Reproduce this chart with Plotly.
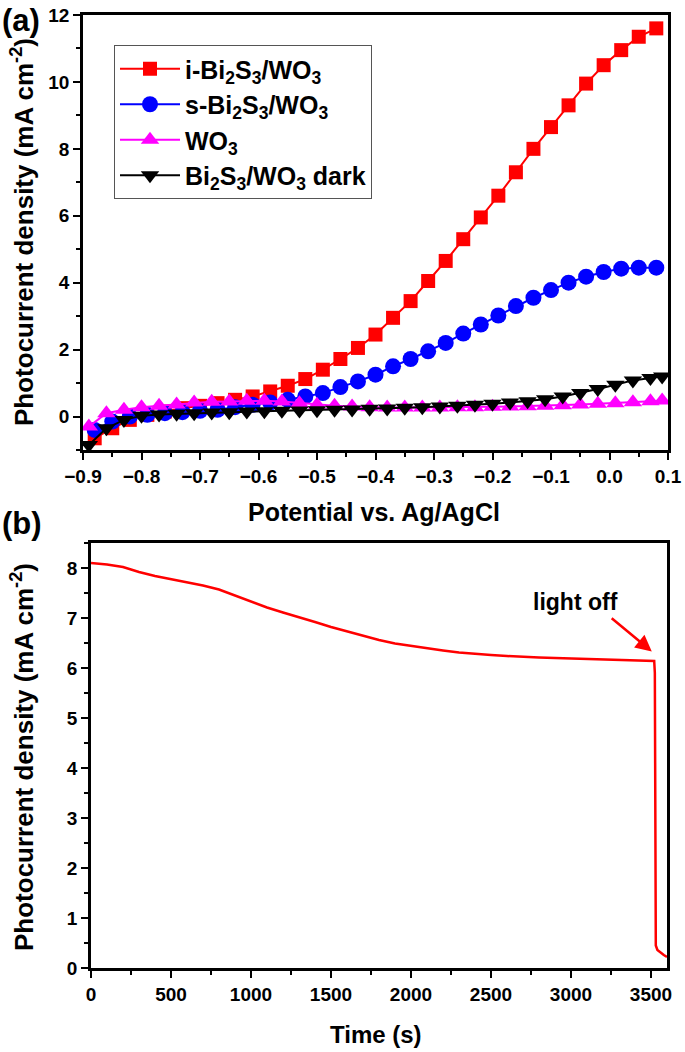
import plotly.graph_objects as go

# ---------- Panel (a) data ----------
pot_i = [-0.88, -0.85, -0.82, -0.79, -0.76, -0.73, -0.70, -0.67, -0.64, -0.61, -0.58,
         -0.55, -0.52, -0.49, -0.46, -0.43, -0.40, -0.37, -0.34, -0.31, -0.28, -0.25,
         -0.22, -0.19, -0.16, -0.13, -0.10, -0.07, -0.04, -0.01, 0.02, 0.05, 0.08]
cur_i = [-0.65, -0.35, -0.10, 0.05, 0.15, 0.25, 0.32, 0.40, 0.50, 0.60, 0.75,
         0.92, 1.12, 1.40, 1.72, 2.05, 2.45, 2.95, 3.45, 4.05, 4.65, 5.30,
         5.95, 6.60, 7.30, 8.00, 8.65, 9.30, 9.95, 10.50, 10.95, 11.35, 11.60]

pot_s = pot_i
cur_s = [-0.40, -0.15, 0.00, 0.05, 0.10, 0.13, 0.17, 0.20, 0.28, 0.35, 0.42,
         0.50, 0.60, 0.70, 0.88, 1.05, 1.25, 1.50, 1.72, 1.95, 2.20, 2.48,
         2.75, 3.02, 3.30, 3.55, 3.78, 4.00, 4.18, 4.32, 4.42, 4.45, 4.45]

pot_w = [-0.89, -0.86, -0.83, -0.80, -0.77, -0.74, -0.71, -0.68, -0.65, -0.62, -0.59,
         -0.56, -0.53, -0.50, -0.47, -0.44, -0.41, -0.38, -0.35, -0.32, -0.29, -0.26,
         -0.23, -0.20, -0.17, -0.14, -0.11, -0.08, -0.05, -0.02, 0.01, 0.04, 0.07, 0.09]
cur_w = [-0.30, 0.10, 0.20, 0.28, 0.32, 0.36, 0.42, 0.44, 0.45, 0.47, 0.47,
         0.45, 0.40, 0.35, 0.32, 0.30, 0.28, 0.27, 0.27, 0.27, 0.27, 0.28,
         0.28, 0.29, 0.30, 0.31, 0.32, 0.34, 0.36, 0.38, 0.40, 0.43, 0.46, 0.48]

pot_d = pot_w
cur_d = [-0.85, -0.35, -0.10, 0.02, 0.06, 0.08, 0.10, 0.12, 0.13, 0.15, 0.16,
         0.17, 0.18, 0.19, 0.20, 0.21, 0.23, 0.24, 0.26, 0.28, 0.30, 0.32,
         0.35, 0.38, 0.42, 0.46, 0.52, 0.60, 0.70, 0.82, 0.95, 1.08, 1.15, 1.20]

# ---------- Panel (b) data ----------
time_s = [0, 100, 200, 300, 400, 500, 600, 700, 800, 900, 1000, 1100, 1200, 1300,
          1400, 1500, 1600, 1700, 1800, 1900, 2000, 2100, 2200, 2300, 2400, 2500,
          2600, 2700, 2800, 2900, 3000, 3100, 3200, 3300, 3400, 3500, 3520, 3524,
          3527, 3530, 3540, 3560, 3580, 3600]
cur_t = [8.10, 8.07, 8.02, 7.92, 7.84, 7.78, 7.72, 7.65, 7.57, 7.45, 7.32, 7.21,
         7.11, 7.02, 6.92, 6.82, 6.73, 6.64, 6.56, 6.49, 6.44, 6.39, 6.35, 6.31,
         6.28, 6.26, 6.24, 6.22, 6.21, 6.20, 6.19, 6.18, 6.17, 6.17, 6.16, 6.15,
         6.14, 5.90, 2.00, 0.45, 0.36, 0.30, 0.26, 0.22]

names = ["i-Bi<sub>2</sub>S<sub>3</sub>/WO<sub>3</sub>",
         "s-Bi<sub>2</sub>S<sub>3</sub>/WO<sub>3</sub>",
         "WO<sub>3</sub>",
         "Bi<sub>2</sub>S<sub>3</sub>/WO<sub>3</sub> dark"]

FONT = "Liberation Sans, Arial, sans-serif"

fig = go.Figure()

fig.add_trace(go.Scatter(x=pot_i, y=cur_i, name=names[0], mode="lines+markers",
                         line=dict(color="#ff0000", width=2),
                         marker=dict(symbol="square", size=14, color="#ff0000"),
                         xaxis="x", yaxis="y"))
fig.add_trace(go.Scatter(x=pot_s, y=cur_s, name=names[1], mode="lines+markers",
                         line=dict(color="#0000ff", width=2),
                         marker=dict(symbol="circle", size=16, color="#0000ff"),
                         xaxis="x", yaxis="y"))
fig.add_trace(go.Scatter(x=pot_w, y=cur_w, name=names[2], mode="lines+markers",
                         line=dict(color="#ff00ff", width=2),
                         marker=dict(symbol="triangle-up", size=16, color="#ff00ff"),
                         xaxis="x", yaxis="y"))
fig.add_trace(go.Scatter(x=pot_d, y=cur_d, name=names[3], mode="lines+markers",
                         line=dict(color="#000000", width=2),
                         marker=dict(symbol="triangle-down", size=16, color="#000000"),
                         xaxis="x", yaxis="y"))

fig.add_trace(go.Scatter(x=time_s, y=cur_t, mode="lines", showlegend=False,
                         line=dict(color="#ff0000", width=2.5),
                         xaxis="x2", yaxis="y2"))

W, H = 685, 1052

def px(xp):
    return xp / W

def py(yp):
    return 1 - yp / H

axis_common = dict(showline=True, linecolor="black", linewidth=2.5, mirror=True,
                   ticks="outside", ticklen=7, tickwidth=2, tickcolor="black",
                   showgrid=False, zeroline=False, automargin=False,
                   tickfont=dict(family=FONT, size=19, color="black", weight="bold"))

fig.update_layout(
    width=W, height=H,
    margin=dict(l=0, r=0, t=0, b=0, autoexpand=False),
    paper_bgcolor="white", plot_bgcolor="white",
    font=dict(family=FONT, color="black"),
    xaxis=dict(domain=[px(83), px(668)], range=[-0.9, 0.1], dtick=0.1, tick0=-0.9,
               tickformat=".1f", anchor="y",
               minor=dict(ticks="outside", ticklen=4, tickwidth=2, dtick=0.05,
                          tickcolor="black"),
               **axis_common),
    yaxis=dict(domain=[py(450), py(15)], range=[-1, 12], dtick=2, tick0=0, anchor="x",
               minor=dict(ticks="outside", ticklen=4, tickwidth=2, dtick=1,
                          tickcolor="black"),
               **axis_common),
    xaxis2=dict(domain=[px(91), px(667)], range=[0, 3600], dtick=500, tick0=0,
                anchor="y2",
                minor=dict(ticks="outside", ticklen=4, tickwidth=2, dtick=250,
                           tickcolor="black"),
                **axis_common),
    yaxis2=dict(domain=[py(968), py(543)], range=[0, 8.5], dtick=1, tick0=0,
                anchor="x2",
                minor=dict(ticks="outside", ticklen=4, tickwidth=2, dtick=0.5,
                           tickcolor="black"),
                **axis_common),
    legend=dict(x=px(114), y=py(45), xanchor="left", yanchor="top",
                bordercolor="#555555", borderwidth=1, bgcolor="white",
                font=dict(family=FONT, size=25, color="black", weight="bold"),
                tracegroupgap=0, itemwidth=60),
)

ann_font = dict(family=FONT, color="black", weight="bold")
annotations = [
    dict(text="(a)", x=px(0), y=py(21), xref="paper", yref="paper",
         xanchor="left", yanchor="middle", showarrow=False,
         font=dict(size=31, **ann_font)),
    dict(text="(b)", x=px(0), y=py(524), xref="paper", yref="paper",
         xanchor="left", yanchor="middle", showarrow=False,
         font=dict(size=31, **ann_font)),
    dict(text="Photocurrent density (mA cm<sup>-2</sup>)", x=px(22), y=py(232),
         xref="paper", yref="paper", textangle=-90, showarrow=False,
         xanchor="center", yanchor="middle", font=dict(size=26, **ann_font)),
    dict(text="Photocurrent density (mA cm<sup>-2</sup>)", x=px(22), y=py(757),
         xref="paper", yref="paper", textangle=-90, showarrow=False,
         xanchor="center", yanchor="middle", font=dict(size=26, **ann_font)),
    dict(text="Potential vs. Ag/AgCl", x=px(374), y=py(512), xref="paper",
         yref="paper", showarrow=False, xanchor="center", yanchor="middle",
         font=dict(size=25, **ann_font)),
    dict(text="Time (s)", x=px(376), y=py(1034), xref="paper", yref="paper",
         showarrow=False, xanchor="center", yanchor="middle",
         font=dict(size=24, **ann_font)),
    dict(text="light off", x=3030, y=7.32, xref="x2", yref="y2", showarrow=False,
         xanchor="center", yanchor="middle", font=dict(size=23, **ann_font)),
    dict(text="", x=3505, y=6.33, xref="x2", yref="y2", ax=3245, ay=7.02,
         axref="x2", ayref="y2", showarrow=True, arrowhead=2, arrowsize=1.3,
         arrowwidth=2.5, arrowcolor="#ff0000"),
]
fig.update_layout(annotations=annotations)

fig.write_html("out.html",
               config={"displayModeBar": False},
               post_script="document.body.style.margin='0';"
                           "document.body.style.overflow='hidden';")
